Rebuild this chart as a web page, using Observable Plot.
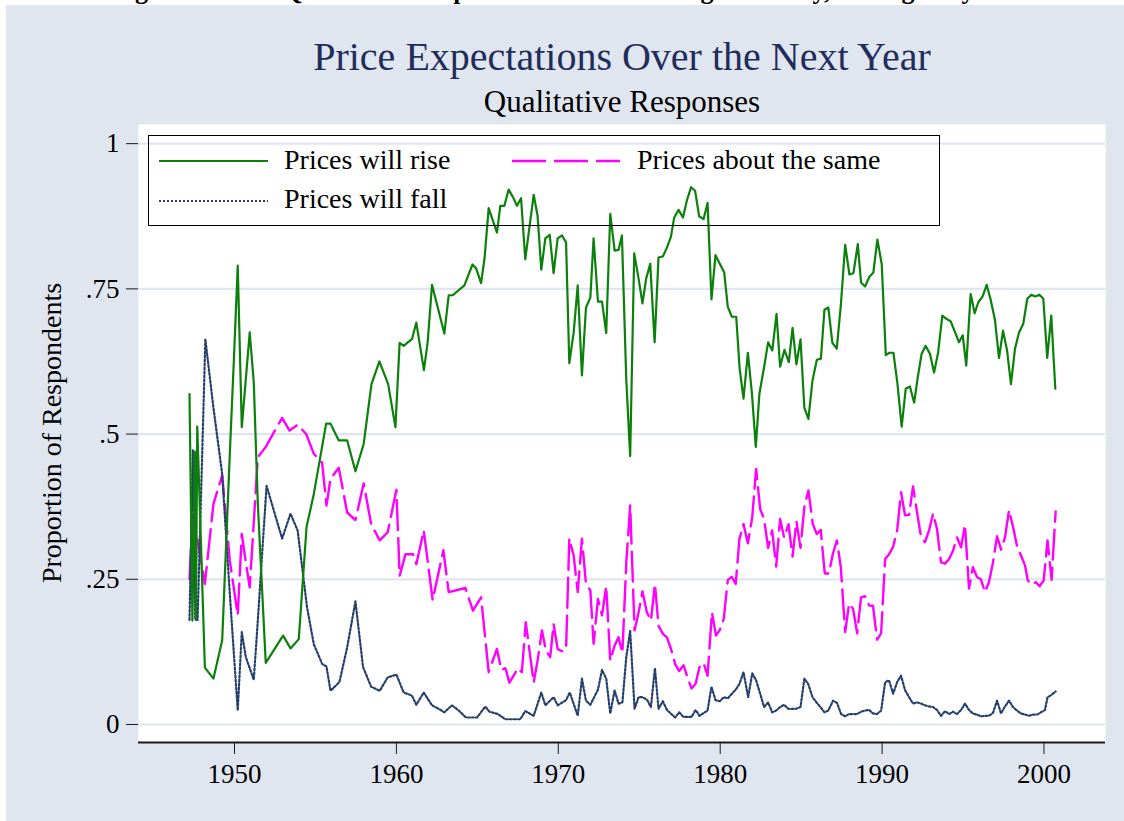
<!DOCTYPE html>
<html>
<head>
<meta charset="utf-8">
<script src="https://cdn.jsdelivr.net/npm/d3@7"></script>
<script src="https://cdn.jsdelivr.net/npm/@observablehq/plot@0.6"></script>
<style>
html, body { margin: 0; padding: 0; background: #ffffff; }
body { width: 1124px; height: 821px; position: relative; overflow: hidden;
       font-family: "Liberation Serif", "Times New Roman", serif; color: #000; }
#bg { position: absolute; left: 6px; top: 5px; right: 0; bottom: 0; background: #e0e6f0; }
#chart { position: absolute; left: 0; top: 0; }
.t { position: absolute; white-space: nowrap; line-height: 1; }
#cap { position: absolute; left: 0; top: 0; width: 1124px; height: 5px; overflow: hidden; }
#cap div { position: absolute; left: 112px; top: -22px; font-weight: bold; font-size: 26px; line-height: 1; white-space: nowrap; }
#legend { position: absolute; left: 148px; top: 135px; width: 792px; height: 91px; box-sizing: border-box;
          border: 1.5px solid #000; background: transparent; }
svg.key { position: absolute; overflow: visible; }
</style>
</head>
<body>
<div id="cap"><div>Figure 10: The Qualitative Responses from the Michigan Survey, Averaged by Year</div></div>
<div id="bg"></div>
<div id="chart"></div>
<script>
// ---------------- data ----------------
const xTicks = [1950, 1960, 1970, 1980, 1990, 2000];
const yTicks = [0, 0.25, 0.5, 0.75, 1];
const yTickText = ["0", ".25", ".5", ".75", "1"];
const seriesNames = ["Prices will rise", "Prices about the same", "Prices will fall"];

const riseYear = [1947.22,1947.40,1947.55,1947.62,1947.70,1948.17,1948.70,1949.24,1949.71,1949.96,
1950.20,1950.45,1950.70,1950.94,1951.19,1951.44,1951.93,1953.00,1953.46,1953.97,1954.45,1954.90,
1955.66,1955.93,1956.44,1956.96,1957.47,1957.98,1958.46,1958.95,1959.49,1959.94,1960.20,1960.45,
1960.97,1961.23,1961.70,1961.93,1962.20,1962.96,1963.23,1963.48,1964.20,1964.70,1964.93,1965.23,
1965.45,1965.70,1966.21,1966.42,1966.67,1966.93,1967.20,1967.45,1967.70,1967.96,1968.48,1968.72,
1968.95,1969.20,1969.47,1969.71,1969.96,1970.23,1970.48,1970.68,1970.95,1971.20,1971.46,1971.71,
1971.98,1972.18,1972.45,1972.70,1972.96,1973.21,1973.48,1973.72,1973.93,1974.20,1974.44,1974.69,
1974.94,1975.20,1975.43,1975.68,1975.95,1976.19,1976.46,1976.71,1976.96,1977.16,1977.43,1977.70,
1977.95,1978.20,1978.45,1978.70,1978.97,1979.22,1979.46,1979.71,1979.96,1980.25,1980.47,1980.72,
1980.99,1981.20,1981.44,1981.71,1981.96,1982.20,1982.42,1982.71,1982.96,1983.22,1983.48,1983.70,
1983.97,1984.24,1984.47,1984.71,1984.96,1985.20,1985.45,1985.70,1985.97,1986.22,1986.44,1986.68,
1986.93,1987.20,1987.45,1987.72,1987.98,1988.23,1988.50,1988.70,1988.95,1989.22,1989.46,1989.71,
1989.98,1990.23,1990.45,1990.70,1990.94,1991.21,1991.46,1991.72,1991.98,1992.20,1992.44,1992.69,
1992.96,1993.21,1993.46,1993.72,1993.99,1994.24,1994.51,1994.75,1994.98,1995.20,1995.47,1995.72,
1995.94,1996.21,1996.46,1996.71,1996.97,1997.22,1997.47,1997.72,1997.96,1998.21,1998.46,1998.72,
1998.97,1999.22,1999.47,1999.72,1999.96,2000.20,2000.45,2000.70];
const riseVal = [.569,.179,.470,.185,.513,.098,.079,.145,.466,.627,
.790,.512,.595,.675,.589,.380,.106,.153,.131,.147,.340,.397,
.518,.518,.489,.489,.436,.483,.586,.625,.586,.512,.657,.652,
.664,.692,.610,.658,.757,.673,.739,.739,.756,.792,.785,.760,
.804,.889,.847,.893,.893,.921,.908,.893,.906,.801,.912,.876,
.783,.837,.843,.777,.837,.842,.830,.622,.675,.756,.601,.718,
.735,.837,.728,.728,.674,.879,.816,.817,.842,.593,.462,.811,
.771,.725,.768,.793,.658,.804,.806,.821,.840,.873,.886,.873,
.903,.925,.919,.875,.870,.898,.732,.808,.794,.778,.719,.702,
.702,.613,.561,.640,.570,.478,.569,.615,.658,.644,.707,.616,
.645,.624,.683,.620,.663,.545,.526,.592,.628,.630,.714,.718,
.657,.647,.721,.826,.775,.777,.827,.761,.754,.771,.778,.835,
.792,.636,.640,.640,.589,.513,.578,.582,.554,.597,.638,.652,
.638,.606,.640,.704,.698,.694,.675,.658,.670,.618,.741,.708,
.727,.737,.757,.731,.697,.631,.678,.644,.586,.647,.675,.690,
.733,.740,.737,.740,.733,.631,.704,.578];

const sameYear = [1947.22,1947.40,1947.55,1947.70,1948.17,1948.70,1949.24,1949.71,1950.20,1950.45,
1950.70,1950.94,1951.44,1951.93,1952.94,1953.40,1953.90,1954.43,1954.90,1955.41,1955.68,1955.93,
1956.44,1956.96,1957.47,1957.98,1958.44,1958.97,1959.46,1960.00,1960.20,1960.56,1961.03,1961.23,
1961.69,1962.24,1962.90,1963.23,1964.26,1964.73,1965.23,1965.70,1965.95,1966.21,1966.48,1966.73,
1966.98,1967.51,1967.75,1967.99,1968.48,1968.72,1968.99,1969.24,1969.50,1969.71,1969.96,1970.23,
1970.48,1970.68,1970.95,1971.20,1971.46,1971.71,1971.98,1972.18,1972.45,1972.70,1972.96,1973.21,
1973.48,1973.72,1973.96,1974.20,1974.44,1974.71,1974.96,1975.20,1975.47,1975.72,1975.97,1976.19,
1976.46,1976.71,1976.96,1977.22,1977.47,1977.74,1977.98,1978.23,1978.48,1978.72,1978.97,1979.22,
1979.49,1979.74,1979.98,1980.22,1980.47,1980.72,1980.96,1981.19,1981.44,1981.71,1981.98,1982.22,
1982.47,1982.71,1982.96,1983.21,1983.46,1983.70,1983.95,1984.22,1984.47,1984.71,1984.96,1985.20,
1985.45,1985.72,1985.97,1986.21,1986.46,1986.71,1986.96,1987.21,1987.45,1987.72,1987.96,1988.21,
1988.46,1988.70,1988.95,1989.20,1989.44,1989.69,1989.94,1990.19,1990.43,1990.68,1990.93,1991.17,
1991.42,1991.67,1991.91,1992.16,1992.41,1992.65,1992.90,1993.15,1993.39,1993.64,1993.89,1994.14,
1994.38,1994.63,1994.88,1995.12,1995.37,1995.61,1995.86,1996.10,1996.36,1996.60,1996.85,1997.10,
1997.35,1997.59,1997.84,1998.09,1998.33,1998.58,1998.83,1999.00,1999.24,1999.49,1999.73,1999.98,
2000.22,2000.47,2000.72];
const sameVal = [.250,.360,.260,.320,.242,.380,.429,.282,.188,.328,
.279,.236,.460,.478,.528,.506,.516,.500,.466,.451,.377,.423,
.442,.365,.352,.415,.345,.317,.331,.404,.256,.293,.293,.276,
.334,.214,.300,.228,.235,.196,.219,.090,.110,.130,.094,.097,
.072,.097,.090,.176,.072,.110,.162,.127,.116,.173,.130,.126,
.129,.320,.291,.228,.320,.242,.231,.139,.216,.188,.238,.110,
.136,.150,.123,.279,.377,.162,.193,.229,.193,.179,.242,.170,
.156,.150,.130,.104,.092,.102,.081,.062,.070,.099,.106,.084,
.193,.153,.163,.182,.249,.254,.242,.320,.345,.312,.357,.440,
.371,.354,.304,.334,.272,.354,.322,.345,.289,.350,.304,.375,
.403,.345,.328,.335,.260,.260,.294,.317,.271,.159,.208,.199,
.157,.219,.221,.205,.204,.146,.157,.285,.293,.306,.334,.400,
.360,.361,.410,.365,.322,.314,.334,.363,.337,.279,.277,.285,
.299,.322,.305,.344,.234,.271,.254,.250,.228,.245,.279,.324,
.301,.322,.369,.340,.308,.291,.274,.248,.241,.245,.238,.248,
.317,.249,.367];

const fallYear = [1947.22,1947.43,1947.58,1947.72,1948.20,1948.70,1949.24,1949.71,1950.20,1950.45,
1950.70,1951.19,1951.44,1951.98,1952.94,1953.46,1953.90,1954.48,1954.90,1955.42,1955.68,1955.93,
1956.48,1956.96,1957.47,1957.94,1958.44,1958.97,1959.46,1960.00,1960.45,1960.95,1961.23,1961.69,
1962.20,1962.67,1962.96,1963.43,1963.85,1964.30,1964.98,1965.49,1965.75,1966.26,1966.73,1967.65,
1967.96,1968.48,1968.95,1969.20,1969.71,1969.96,1970.48,1970.71,1971.20,1971.46,1971.71,1971.98,
1972.45,1972.70,1972.96,1973.21,1973.48,1973.72,1973.96,1974.20,1974.44,1974.71,1974.96,1975.20,
1975.47,1975.72,1975.97,1976.19,1976.46,1976.71,1977.22,1977.47,1977.73,1978.23,1978.48,1978.72,
1979.22,1979.46,1979.71,1979.98,1980.22,1980.47,1980.72,1980.96,1981.19,1981.44,1981.73,1981.98,
1982.22,1982.47,1982.71,1982.96,1983.21,1983.46,1983.70,1983.95,1984.20,1984.69,1984.96,1985.20,
1985.45,1985.70,1985.95,1986.19,1986.44,1986.68,1986.97,1987.22,1987.47,1987.72,1987.96,1988.46,
1988.70,1988.95,1989.20,1989.44,1989.69,1989.94,1990.19,1990.43,1990.68,1990.93,1991.17,1991.42,
1991.67,1991.91,1992.16,1992.41,1992.65,1992.90,1993.15,1993.39,1993.64,1993.89,1994.14,1994.38,
1994.63,1994.88,1995.12,1995.37,1995.61,1995.86,1996.10,1996.36,1996.60,1996.85,1997.10,1997.35,
1997.59,1997.84,1998.09,1998.33,1998.58,1998.83,1999.07,1999.32,1999.57,1999.81,2000.06,2000.22,
2000.47,2000.72];
const fallVal = [.180,.472,.180,.180,.663,.545,.431,.225,.024,.159,
.116,.077,.179,.411,.320,.363,.334,.202,.138,.104,.100,.058,
.073,.133,.212,.099,.065,.058,.081,.086,.055,.050,.034,.055,
.033,.026,.021,.033,.024,.012,.012,.031,.022,.018,.009,.009,
.023,.015,.055,.033,.047,.033,.042,.055,.015,.079,.041,.034,
.060,.094,.079,.019,.059,.036,.038,.116,.161,.027,.047,.047,
.043,.030,.097,.027,.040,.025,.012,.021,.013,.013,.025,.015,
.024,.065,.042,.040,.047,.045,.053,.060,.070,.090,.047,.088,
.076,.053,.030,.038,.021,.024,.030,.034,.027,.027,.030,.079,
.069,.047,.038,.030,.021,.024,.041,.037,.018,.014,.018,.018,
.022,.024,.025,.019,.018,.024,.073,.076,.053,.073,.084,.059,
.047,.036,.038,.036,.033,.031,.030,.025,.015,.023,.018,.022,
.018,.025,.036,.025,.019,.017,.014,.015,.015,.020,.041,.019,
.031,.041,.030,.024,.019,.017,.015,.017,.017,.021,.025,.047,
.051,.057];

// ---------------- styles ----------------
const colRise = "#0b800b";
const colSame = "#ff00ff";
const colFall = "#26406e";
const dashSame = "30,8";
const dashFall = "2,2";
const gridCol = "#e0e6f0";

const rise = riseYear.map((x, i) => ({x, y: riseVal[i]}));
const same = sameYear.map((x, i) => ({x, y: sameVal[i]}));
const fall = fallYear.map((x, i) => ({x, y: fallVal[i]}));

const xDomain = [1944.07, 2003.8];
const yDomain = [-0.031, 1.033];

const chart = Plot.plot({
  width: 1124,
  height: 821,
  marginLeft: 138,
  marginRight: 19,
  marginTop: 124,
  marginBottom: 79,
  style: {background: "transparent", fontFamily: "'Liberation Serif', 'Times New Roman', serif", color: "#000", overflow: "visible"},
  x: {domain: xDomain},
  y: {domain: yDomain},
  marks: [
    Plot.frame({fill: "white", stroke: "none"}),
    Plot.ruleY(yTicks, {stroke: gridCol, strokeWidth: 2.2}),
    Plot.line(same, {x: "x", y: "y", stroke: colSame, strokeWidth: 2.4, strokeDasharray: dashSame}),
    Plot.line(fall, {x: "x", y: "y", stroke: colFall, strokeWidth: 2.2, strokeDasharray: dashFall}),
    Plot.line(rise, {x: "x", y: "y", stroke: colRise, strokeWidth: 2.2}),
    Plot.ruleY([yDomain[0]], {stroke: "#1a1a1a", strokeWidth: 2}),
    Plot.axisX(xTicks, {tickSize: 12, tickPadding: 9, fontSize: 27, label: null, tickFormat: d => String(d), stroke: "#1a1a1a"}),
    Plot.axisY(yTicks, {tickSize: 12, tickPadding: 7, fontSize: 27, label: null,
      tickFormat: d => yTickText[yTicks.indexOf(d)], stroke: "#1a1a1a"})
  ]
});
document.getElementById("chart").appendChild(chart);

// ---------------- titles, axis title, legend ----------------
function addText(txt, left, top, size, extra) {
  const d = document.createElement("div");
  d.className = "t";
  d.textContent = txt;
  d.style.left = left + "px";
  d.style.top = top + "px";
  d.style.fontSize = size + "px";
  if (extra) Object.assign(d.style, extra);
  document.body.appendChild(d);
  return d;
}
addText("Price Expectations Over the Next Year", 122, 36.5, 40, {width: "1000px", textAlign: "center", color: "#1f2d5a"});
addText("Qualitative Responses", 122, 86, 31, {width: "1000px", textAlign: "center"});
addText("Proportion of Respondents", 52 - 200, 433 - 14, 28, {width: "400px", textAlign: "center", transform: "rotate(-90deg)", transformOrigin: "50% 50%"});

const lg = document.createElement("div");
lg.id = "legend";
document.body.appendChild(lg);

function keyLine(x1, x2, y, color, width, dash) {
  const ns = "http://www.w3.org/2000/svg";
  const s = document.createElementNS(ns, "svg");
  s.setAttribute("class", "key");
  s.setAttribute("width", x2 - x1);
  s.setAttribute("height", 10);
  s.style.left = x1 + "px";
  s.style.top = (y - 5) + "px";
  const l = document.createElementNS(ns, "line");
  l.setAttribute("x1", 0); l.setAttribute("x2", x2 - x1);
  l.setAttribute("y1", 5); l.setAttribute("y2", 5);
  l.setAttribute("stroke", color);
  l.setAttribute("stroke-width", width);
  if (dash) l.setAttribute("stroke-dasharray", dash);
  s.appendChild(l);
  document.body.appendChild(s);
}
keyLine(159, 268, 161, colRise, 2.2, null);
addText(seriesNames[0], 284, 145.5, 28);
keyLine(512, 620, 161, colSame, 2.4, "34,8");
addText(seriesNames[1], 637, 145.5, 28);
keyLine(159, 268, 201, colFall, 2.2, dashFall);
addText(seriesNames[2], 284, 185, 28);
</script>
</body>
</html>
